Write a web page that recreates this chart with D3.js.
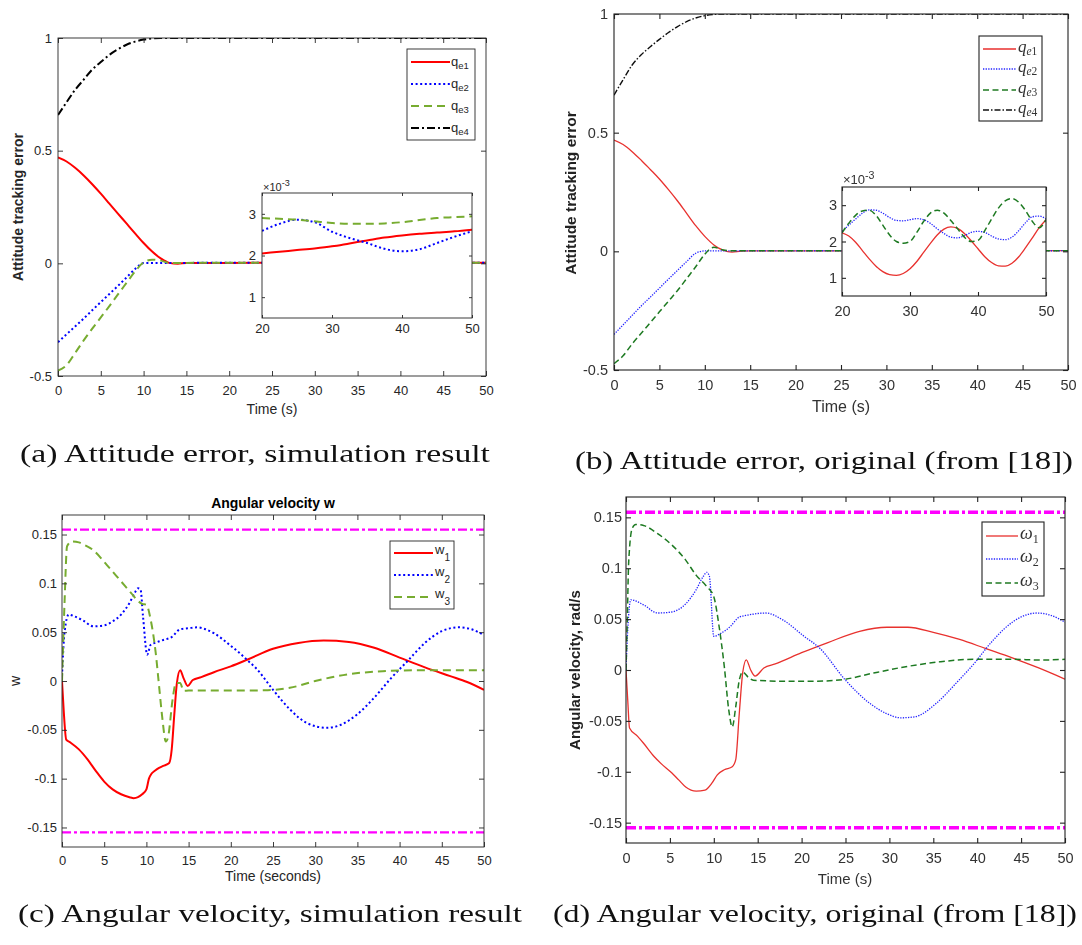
<!DOCTYPE html>
<html>
<head>
<meta charset="utf-8">
<script src="https://cdn.jsdelivr.net/npm/d3@7"></script>
<style>
  body { margin: 0; background: #fff; }
  svg { display: block; }
</style>
</head>
<body>
<script>
// ---------------- data ----------------
// Attitude error quaternion components, main time grid (s)
const attT = [0,1,2,3,4,5,6,7,8,9,10,11,12,13,14,15,20,30,40,50];
const qe1Sim = [0.47,0.452,0.424,0.39,0.351,0.309,0.265,0.221,0.177,0.133,0.09,0.052,0.022,0.002,-0.002,0.002,0.002,0.0022,0.0025,0.0026];
const qe2Sim = [-0.35,-0.315,-0.28,-0.245,-0.208,-0.172,-0.136,-0.1,-0.063,-0.025,0.001,0.002,0.002,0.002,0.002,0.002,0.0026,0.0026,0.0021,0.0026];
const qe3Sim = [-0.476,-0.452,-0.398,-0.342,-0.29,-0.24,-0.19,-0.138,-0.087,-0.036,0.004,0.016,0.012,0.002,0.002,0.002,0.0029,0.0028,0.0028,0.0029];
const qe4Sim = [0.658,0.715,0.77,0.815,0.86,0.893,0.925,0.95,0.97,0.984,0.993,0.998,1,1,1,1,1,1,1,1];

const qe1Orig = [0.469,0.45,0.42,0.384,0.345,0.305,0.26,0.212,0.16,0.108,0.063,0.027,0.005,-0.003,0.001,0.002,0.0022,0.0013,0.0019,0.0026];
const qe2Orig = [-0.35,-0.31,-0.27,-0.23,-0.193,-0.155,-0.117,-0.08,-0.043,-0.008,0.002,0.002,0.002,0.002,0.002,0.002,0.0023,0.0026,0.0023,0.0026];
const qe3Orig = [-0.473,-0.44,-0.39,-0.345,-0.3,-0.255,-0.21,-0.165,-0.115,-0.065,-0.012,0.017,0.006,0.002,0.002,0.002,0.0022,0.002,0.002,0.0026];
const qe4Orig = [0.658,0.723,0.785,0.828,0.862,0.893,0.922,0.947,0.968,0.983,0.993,0.998,1,1,1,1,1,1,1,1];

// Steady-state detail, values in units of 1e-3
const zoomSimT = [20,22.5,25,27.5,30,32.5,35,37.5,40,42.5,45,47.5,50];
const qe1SimZoom = [2.05,2.09,2.13,2.17,2.22,2.29,2.36,2.43,2.48,2.52,2.55,2.58,2.62];
const qe2SimZoom = [2.59,2.76,2.86,2.8,2.57,2.42,2.3,2.16,2.1,2.15,2.3,2.45,2.58];
const qe3SimZoom = [2.9,2.88,2.86,2.82,2.78,2.76,2.76,2.77,2.8,2.85,2.9,2.92,2.94];

const zoomOrigT = d3.range(20, 51, 1);
const qe1OrigZoom = [2.24,2.15,1.98,1.75,1.52,1.32,1.17,1.09,1.07,1.12,1.25,1.45,1.7,1.95,2.18,2.34,2.40,2.36,2.22,2.02,1.8,1.58,1.42,1.33,1.32,1.4,1.58,1.83,2.1,2.38,2.6];
const qe2OrigZoom = [2.28,2.45,2.62,2.78,2.87,2.86,2.78,2.66,2.58,2.57,2.6,2.63,2.6,2.5,2.35,2.22,2.12,2.1,2.16,2.25,2.28,2.25,2.15,2.07,2.05,2.12,2.3,2.52,2.68,2.7,2.62];
const qe3OrigZoom = [2.24,2.5,2.72,2.84,2.86,2.72,2.45,2.18,2.0,1.95,2.0,2.25,2.55,2.78,2.86,2.78,2.58,2.35,2.12,2.0,2.03,2.3,2.62,2.92,3.12,3.18,3.08,2.85,2.55,2.38,2.6];

// Angular velocity (rad/s), simulation
const w1SimT = [0,0.2,0.5,1,2,3,4,5,6,7,8,8.5,9,9.5,10,10.3,10.6,11,11.5,12,12.7,13,13.3,13.6,14,14.4,14.9,15.5,16.5,18,20,22,25,28,31,34,37,40,43,46,48,50];
const w1Sim = [0,-0.03,-0.06,-0.063,-0.07,-0.08,-0.092,-0.103,-0.111,-0.116,-0.119,-0.12,-0.119,-0.116,-0.111,-0.1,-0.095,-0.092,-0.089,-0.087,-0.084,-0.07,-0.035,-0.003,0.011,0.003,-0.005,0.001,0.004,0.009,0.015,0.022,0.033,0.039,0.0415,0.04,0.034,0.024,0.014,0.005,-0.001,-0.009];
const w2SimT = [0,0.3,0.8,1.5,2.5,3.7,5,6,7,8,8.6,9,9.3,9.6,10.1,10.5,11,12,13,14,15,16,17,18,19,20,21,22,23,25,27,29,31.4,33,35,37,39,41,43,45,47,48.5,50];
const w2Sim = [0.005,0.05,0.068,0.066,0.062,0.056,0.057,0.061,0.068,0.08,0.09,0.095,0.094,0.066,0.027,0.037,0.039,0.042,0.045,0.053,0.054,0.055,0.053,0.049,0.043,0.036,0.029,0.021,0.013,-0.009,-0.029,-0.043,-0.048,-0.045,-0.034,-0.017,0.003,0.021,0.039,0.051,0.055,0.053,0.047];
const w3SimT = [0,0.3,0.6,1.2,2,2.5,3.7,5.3,7,8.2,9,9.5,10,10.5,11.1,11.5,11.9,12.3,12.6,13.1,13.5,14,14.4,15,17,20,24,27,30,34,38,42,46,50];
const w3Sim = [0,0.08,0.138,0.143,0.142,0.14,0.134,0.119,0.102,0.09,0.082,0.079,0.078,0.063,0.029,-0.005,-0.039,-0.062,-0.056,-0.019,-0.002,-0.002,-0.01,-0.0098,-0.0097,-0.0098,-0.0095,-0.007,0,0.007,0.010,0.011,0.011,0.011];

// Angular velocity (rad/s), original
const w1OrigT = [0,0.2,0.4,1.3,2,3.2,4,5.2,6,6.8,8,9,9.8,10.4,11.2,12.1,12.5,12.9,13.3,13.7,14.2,14.7,15.7,17,20,23,26.6,29.7,32.1,35,38,41,44,47,50];
const w1Orig = [0,-0.03,-0.057,-0.065,-0.072,-0.085,-0.092,-0.101,-0.108,-0.115,-0.119,-0.118,-0.111,-0.103,-0.098,-0.095,-0.088,-0.043,-0.002,0.010,0,-0.006,0.002,0.006,0.017,0.027,0.038,0.042,0.042,0.037,0.03,0.021,0.012,0.002,-0.009];
const w2OrigT = [0,0.2,0.55,2,3.6,5.2,6.8,8,8.8,9.2,9.5,10,10.8,11.9,12.9,13.9,15.9,17.9,20.3,22,25,27.8,29.7,31.3,32.9,35.3,37.7,40,41,42,44,46.8,48.3,50];
const w2Orig = [0,0.04,0.069,0.064,0.056,0.057,0.065,0.079,0.092,0.096,0.092,0.033,0.036,0.043,0.052,0.054,0.056,0.049,0.033,0.022,-0.01,-0.033,-0.043,-0.047,-0.046,-0.033,-0.012,0.010,0.021,0.031,0.047,0.056,0.054,0.047];
const w3OrigT = [0,0.15,0.3,0.7,1.1,2,3.6,5.2,6.8,8,9.2,10,10.6,11.2,11.7,12.1,12.5,12.9,13.3,13.9,14.5,17.9,21.8,25,28.2,31.7,35.7,39.6,43.6,47.5,50];
const w3Orig = [0,0.05,0.105,0.139,0.143,0.142,0.134,0.123,0.108,0.093,0.082,0.072,0.043,0.003,-0.039,-0.056,-0.036,-0.01,-0.002,-0.007,-0.01,-0.011,-0.011,-0.009,-0.003,0.003,0.008,0.0105,0.0105,0.0098,0.0105];

// Angular velocity bound (rad/s)
const omegaLimits = [0.155, -0.155];

// Ticks and labels
const timeTicks = [0,5,10,15,20,25,30,35,40,45,50];
const timeTickLabels = ["0","5","10","15","20","25","30","35","40","45","50"];
const attTicks = [-0.5,0,0.5,1];
const attTickLabels = ["-0.5","0","0.5","1"];
const zoomTimeTicks = [20,30,40,50];
const zoomTimeLabels = ["20","30","40","50"];
const zoomValTicks = [1,2,3];
const zoomValLabels = ["1","2","3"];
const omegaTicks = [-0.15,-0.1,-0.05,0,0.05,0.1,0.15];
const omegaTickLabels = ["-0.15","-0.1","-0.05","0","0.05","0.1","0.15"];

const attLegendSub = ["e1","e2","e3","e4"];
const omegaLegendSub = ["1","2","3"];
const captions = [
  "(a) Attitude error, simulation result",
  "(b) Attitude error, original (from [18])",
  "(c) Angular velocity, simulation result",
  "(d) Angular velocity, original (from [18])"
];

// ---------------- drawing ----------------
const svg = d3.select("body").append("svg").attr("width", 1082).attr("height", 945);
svg.append("rect").attr("width", 1082).attr("height", 945).attr("fill", "#fff");
const defs = svg.append("defs");
defs.append("filter").attr("id", "soft")
  .append("feGaussianBlur").attr("stdDeviation", 0.45);

const SANS = "'Liberation Sans', Arial, Helvetica, sans-serif";
const SERIF = "'Liberation Serif', 'DejaVu Serif', serif";
let clipCount = 0;

function makeScales(box, xDom, yDom) {
  return {
    x: d3.scaleLinear().domain(xDom).range([box[0], box[1]]),
    y: d3.scaleLinear().domain(yDom).range([box[3], box[2]])
  };
}

function clipFor(box) {
  const id = "clip" + (clipCount++);
  defs.append("clipPath").attr("id", id).append("rect")
    .attr("x", box[0]).attr("y", box[2]).attr("width", box[1] - box[0]).attr("height", box[3] - box[2]);
  return id;
}

// box with inward ticks on all four sides
function frame(g, x, y, o) {
  const [x0, x1] = x.range();
  const y1 = y.range()[0], y0 = y.range()[1];
  const tl = o.tickLen;
  const style = sel => {
    sel.select(".domain").remove();
    sel.selectAll("line").attr("stroke", o.color).attr("stroke-width", o.sw);
    sel.selectAll("text").attr("fill", o.textColor)
      .style("font-family", SANS).style("font-size", o.fs + "px");
  };
  g.append("g").attr("transform", `translate(0,${y1})`)
    .call(d3.axisBottom(x).tickValues(o.xTicks).tickFormat((d, i) => o.xLabels[i]).tickSize(-tl).tickPadding(o.padX))
    .call(style);
  g.append("g").attr("transform", `translate(0,${y0})`)
    .call(d3.axisTop(x).tickValues(o.xTicks).tickFormat("").tickSize(-tl))
    .call(style);
  g.append("g").attr("transform", `translate(${x0},0)`)
    .call(d3.axisLeft(y).tickValues(o.yTicks).tickFormat((d, i) => o.yLabels[i]).tickSize(-tl).tickPadding(o.padY))
    .call(style);
  g.append("g").attr("transform", `translate(${x1},0)`)
    .call(d3.axisRight(y).tickValues(o.yTicks).tickFormat("").tickSize(-tl))
    .call(style);
  g.append("rect").attr("x", x0).attr("y", y0).attr("width", x1 - x0).attr("height", y1 - y0)
    .attr("fill", "none").attr("stroke", o.color).attr("stroke-width", o.sw);
}

function series(g, x, y, T, V, st, clipId) {
  g.append("path").datum(V)
    .attr("d", d3.line().x((d, i) => x(T[i])).y(d => y(d)).curve(d3.curveMonotoneX))
    .attr("fill", "none").attr("stroke", st.color).attr("stroke-width", st.w)
    .attr("stroke-dasharray", st.dash || null)
    .attr("clip-path", `url(#${clipId})`);
}

function hline(g, x, y, v, st, clipId) {
  g.append("path").datum(x.domain())
    .attr("d", d3.line().x(d => x(d)).y(() => y(v)))
    .attr("fill", "none").attr("stroke", st.color).attr("stroke-width", st.w)
    .attr("stroke-dasharray", st.dash || null)
    .attr("clip-path", `url(#${clipId})`);
}

function legend(g, L, styles, mains, subs, o) {
  g.append("rect").attr("x", L.x0).attr("y", L.y0).attr("width", L.x1 - L.x0).attr("height", L.y1 - L.y0)
    .attr("fill", "#fff").attr("stroke", o.border).attr("stroke-width", o.bw);
  subs.forEach((s, i) => {
    const yy = L.rows[i], st = styles[i];
    g.append("line").attr("x1", L.lx0).attr("x2", L.lx1).attr("y1", yy).attr("y2", yy)
      .attr("stroke", st.color).attr("stroke-width", st.w).attr("stroke-dasharray", st.dash || null);
    const t = g.append("text").attr("x", L.tx).attr("y", yy + o.dyMain)
      .style("font-family", o.font).style("font-size", o.fs + "px").attr("fill", o.textColor);
    t.append("tspan").text(mains).style("font-style", o.italic ? "italic" : "normal");
    [...s].forEach((ch, k) => {
      const sp = t.append("tspan").text(ch).style("font-size", o.subFs + "px")
        .style("font-style", (o.italic && /[a-z]/.test(ch)) ? "italic" : "normal");
      if (k === 0) sp.attr("dy", o.subDy);
    });
  });
}

function rotLabel(g, txt, cx, cy, fs, weight, color) {
  g.append("text").attr("transform", `translate(${cx},${cy}) rotate(-90)`)
    .attr("text-anchor", "middle").style("font-family", SANS).style("font-size", fs + "px")
    .style("font-weight", weight).attr("fill", color).text(txt);
}

function label(g, txt, cx, cy, fs, weight, color) {
  g.append("text").attr("x", cx).attr("y", cy).attr("text-anchor", "middle")
    .style("font-family", SANS).style("font-size", fs + "px").style("font-weight", weight)
    .attr("fill", color).text(txt);
}

function timesTen(g, x, yb, fs, color) {
  const t = g.append("text").attr("x", x).attr("y", yb).style("font-family", SANS)
    .style("font-size", fs + "px").attr("fill", color);
  t.append("tspan").text("\u00d710");
  t.append("tspan").text("-3").attr("dy", -fs * 0.42).style("font-size", (fs * 0.82) + "px");
}

// line styles
const simQ = [
  { color: "#ff0000", w: 2 },
  { color: "#0000ff", w: 2, dash: "2,2.6" },
  { color: "#77ac30", w: 2, dash: "8,5" },
  { color: "#000000", w: 2, dash: "8,3,2,3" }
];
const origQ = [
  { color: "#e8312e", w: 1.3 },
  { color: "#2424ff", w: 1.3, dash: "1.3,1.3" },
  { color: "#1f7a22", w: 1.5, dash: "6,3.5" },
  { color: "#111111", w: 1.4, dash: "6,2,1.5,2" }
];
const simLimit = { color: "#ff00ff", w: 2.2, dash: "9,3,3,3" };
const origLimit = { color: "#ff00ff", w: 3.3, dash: "10,3,3,3" };

const simAx = { color: "#262626", textColor: "#262626", sw: 0.9, tickLen: 5, fs: 13 };
const origAx = { color: "#222", textColor: "#333", sw: 1.1, tickLen: 5, fs: 14.5 };

// ===== (a) attitude error, simulation =====
(function () {
  const g = svg.append("g");
  const box = [58, 486, 38, 376];
  const { x, y } = makeScales(box, [0, 50], [-0.5, 1]);
  const cid = clipFor(box);
  [qe1Sim, qe2Sim, qe3Sim, qe4Sim].forEach((v, i) => series(g, x, y, attT, v, simQ[i], cid));
  frame(g, x, y, Object.assign({}, simAx, { xTicks: timeTicks, xLabels: timeTickLabels, yTicks: attTicks, yLabels: attTickLabels, padX: 10, padY: 6 }));
  rotLabel(g, "Attitude tracking error", 23, 207, 14, "bold", "#262626");
  label(g, "Time (s)", 272, 414, 14, "normal", "#262626");
  legend(g, { x0: 407, x1: 475, y0: 49, y1: 140, rows: [62, 84, 106, 128], lx0: 411, lx1: 450, tx: 451 },
    simQ, "q", attLegendSub,
    { border: "#262626", bw: 0.9, font: SANS, fs: 13, subFs: 9.5, dyMain: 4, subDy: 3, italic: false, textColor: "#262626" });
  // detail view of the steady state
  const ibox = [262, 472, 193, 318];
  const s2 = makeScales(ibox, [20, 50], [0.5, 3.5]);
  g.append("rect").attr("x", ibox[0]).attr("y", ibox[2]).attr("width", ibox[1] - ibox[0]).attr("height", ibox[3] - ibox[2]).attr("fill", "#fff");
  const icid = clipFor(ibox);
  [qe1SimZoom, qe2SimZoom, qe3SimZoom].forEach((v, i) => series(g, s2.x, s2.y, zoomSimT, v, simQ[i], icid));
  frame(g, s2.x, s2.y, Object.assign({}, simAx, { tickLen: 3, xTicks: zoomTimeTicks, xLabels: zoomTimeLabels, yTicks: zoomValTicks, yLabels: zoomValLabels, padX: 6, padY: 6 }));
  timesTen(g, 263, 191, 11, "#262626");
})();

// ===== (b) attitude error, original =====
(function () {
  const g = svg.append("g").attr("filter", "url(#soft)");
  const box = [614, 1068, 14, 370];
  const { x, y } = makeScales(box, [0, 50], [-0.5, 1]);
  const cid = clipFor(box);
  [qe1Orig, qe2Orig, qe3Orig, qe4Orig].forEach((v, i) => series(g, x, y, attT, v, origQ[i], cid));
  frame(g, x, y, Object.assign({}, origAx, { xTicks: timeTicks, xLabels: timeTickLabels, yTicks: attTicks, yLabels: attTickLabels, padX: 10, padY: 6 }));
  rotLabel(g, "Attitude tracking error", 576, 193, 15.5, "bold", "#222");
  label(g, "Time (s)", 841, 412, 16, "normal", "#333");
  legend(g, { x0: 979, x1: 1042, y0: 36, y1: 121, rows: [49, 69, 90, 110], lx0: 983, lx1: 1016, tx: 1018 },
    origQ, "q", attLegendSub,
    { border: "#222", bw: 1.1, font: SERIF, fs: 17, subFs: 11.5, dyMain: 3, subDy: 3, italic: true, textColor: "#333" });
  const ibox = [842, 1046, 187, 296];
  const s2 = makeScales(ibox, [20, 50], [0.5, 3.5]);
  g.append("rect").attr("x", ibox[0]).attr("y", ibox[2]).attr("width", ibox[1] - ibox[0]).attr("height", ibox[3] - ibox[2]).attr("fill", "#fff");
  const icid = clipFor(ibox);
  [qe1OrigZoom, qe2OrigZoom, qe3OrigZoom].forEach((v, i) => series(g, s2.x, s2.y, zoomOrigT, v, origQ[i], icid));
  frame(g, s2.x, s2.y, Object.assign({}, origAx, { tickLen: 4, xTicks: zoomTimeTicks, xLabels: zoomTimeLabels, yTicks: zoomValTicks, yLabels: zoomValLabels, padX: 10, padY: 5 }));
  timesTen(g, 843, 184, 13, "#333");
})();

// ===== (c) angular velocity, simulation =====
(function () {
  const g = svg.append("g");
  const box = [62, 484, 515, 847];
  const { x, y } = makeScales(box, [0, 50], [-0.17, 0.17]);
  const cid = clipFor(box);
  series(g, x, y, w1SimT, w1Sim, simQ[0], cid);
  series(g, x, y, w2SimT, w2Sim, simQ[1], cid);
  series(g, x, y, w3SimT, w3Sim, simQ[2], cid);
  omegaLimits.forEach(v => hline(g, x, y, v, simLimit, cid));
  frame(g, x, y, Object.assign({}, simAx, { xTicks: timeTicks, xLabels: timeTickLabels, yTicks: omegaTicks, yLabels: omegaTickLabels, padX: 9, padY: 5 }));
  label(g, "Angular velocity w", 273, 508, 14, "bold", "#000");
  rotLabel(g, "w", 20, 681, 14, "normal", "#262626");
  label(g, "Time (seconds)", 273, 881, 14, "normal", "#262626");
  legend(g, { x0: 390, x1: 454, y0: 541, y1: 609, rows: [553, 575, 597], lx0: 394, lx1: 433, tx: 435 },
    simQ.slice(0, 3), "w", omegaLegendSub,
    { border: "#262626", bw: 0.9, font: SANS, fs: 13, subFs: 10, dyMain: 1, subDy: 7, italic: false, textColor: "#262626" });
})();

// ===== (d) angular velocity, original =====
(function () {
  const g = svg.append("g").attr("filter", "url(#soft)");
  const box = [626, 1065, 497, 843];
  const { x, y } = makeScales(box, [0, 50], [-0.17, 0.17]);
  const cid = clipFor(box);
  series(g, x, y, w1OrigT, w1Orig, origQ[0], cid);
  series(g, x, y, w2OrigT, w2Orig, origQ[1], cid);
  series(g, x, y, w3OrigT, w3Orig, origQ[2], cid);
  omegaLimits.forEach(v => hline(g, x, y, v, origLimit, cid));
  frame(g, x, y, Object.assign({}, origAx, { xTicks: timeTicks, xLabels: timeTickLabels, yTicks: omegaTicks, yLabels: omegaTickLabels, padX: 10, padY: 4 }));
  rotLabel(g, "Angular velocity, rad/s", 580, 670, 15, "bold", "#222");
  label(g, "Time (s)", 845, 884, 15, "normal", "#333");
  legend(g, { x0: 982, x1: 1044, y0: 522, y1: 596, rows: [536, 559, 583], lx0: 986, lx1: 1018, tx: 1020 },
    origQ.slice(0, 3), "\u03c9", omegaLegendSub,
    { border: "#222", bw: 1.1, font: SERIF, fs: 18, subFs: 12, dyMain: 3, subDy: 4, italic: true, textColor: "#333" });
})();

// ===== captions =====
const capPos = [[20, 490, 462], [575, 1073, 469], [18, 522, 922], [553, 1077, 922]];
captions.forEach((c, i) => {
  const [a, b, yb] = capPos[i];
  svg.append("text").attr("x", a).attr("y", yb)
    .attr("textLength", b - a).attr("lengthAdjust", "spacingAndGlyphs")
    .style("font-family", SERIF).style("font-size", "25px").attr("fill", "#111").text(c);
});
</script>
</body>
</html>
